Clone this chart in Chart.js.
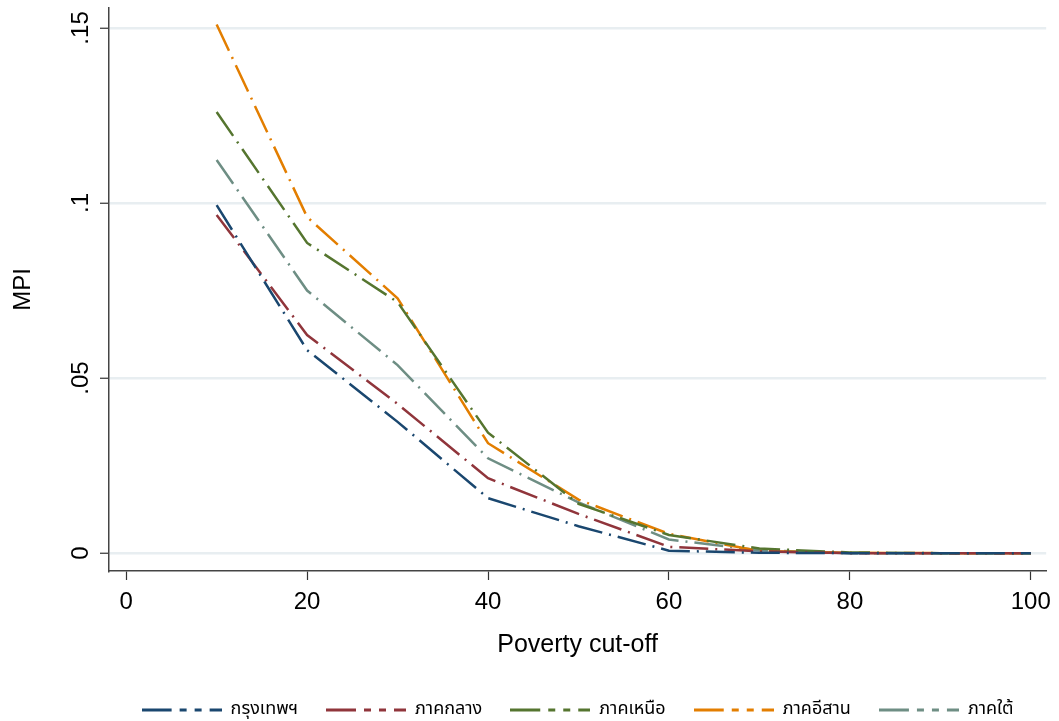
<!DOCTYPE html>
<html>
<head>
<meta charset="utf-8">
<script src="https://cdn.jsdelivr.net/npm/chart.js@4"></script>
<style>
  html, body { margin: 0; padding: 0; background: #fff; }
  #wrap { width: 1059px; height: 721px; }
</style>
</head>
<body>
<div id="wrap"><canvas id="grafico" width="1059" height="721"></canvas></div>
<script>
// datos (MPI por punto de corte)
const cutoffs = [10, 20, 30, 40, 50, 60, 70, 80, 90, 100];
const bangkok   = [0.0994, 0.0580, 0.0375, 0.0157, 0.0077, 0.0007, 0.0001, 0, 0, 0];
const central   = [0.0966, 0.0623, 0.0426, 0.0214, 0.0112, 0.0018, 0.0005, 0, 0, 0];
const north     = [0.1260, 0.0886, 0.0717, 0.0344, 0.0141, 0.0052, 0.0013, 0.0002, 0, 0];
const northeast = [0.1510, 0.0960, 0.0728, 0.0314, 0.0153, 0.0055, 0.0006, 0.0001, 0, 0];
const south     = [0.1123, 0.0750, 0.0537, 0.0271, 0.0145, 0.0039, 0.0008, 0, 0, 0];

const regionNames = ['กรุงเทพฯ', 'ภาคกลาง', 'ภาคเหนือ', 'ภาคอีสาน', 'ภาคใต้'];
const regionColors = ['#1a476f', '#90353b', '#55752f', '#e37e00', '#6e8e84'];

const xTicks = [0, 20, 40, 60, 80, 100];
const yTicks = [0, 0.05, 0.1, 0.15];
const yTickLabels = ['0', '.05', '.1', '.15'];

const fontFam = '"Liberation Sans", Arial, sans-serif';
const thaiFam = '"Noto Sans Thai", "Loma", "Garuda", "Tlwg Typo", "Liberation Sans", sans-serif';

function toPoints(vals) {
  return cutoffs.map((c, i) => ({ x: c, y: vals[i] }));
}

// icono de la leyenda: linea larga + guiones cortos
function legendIcon(color) {
  const c = document.createElement('canvas');
  c.width = 80; c.height = 6;
  const g = c.getContext('2d');
  g.strokeStyle = color;
  g.lineWidth = 3;
  g.setLineDash([30, 8, 7, 8, 7, 8]);
  g.beginPath();
  g.moveTo(0, 3); g.lineTo(80, 3);
  g.stroke();
  return c;
}

const series = [bangkok, central, north, northeast, south];

// etiquetas del eje y rotadas (como Stata)
const yLabelsPlugin = {
  id: 'yLabels',
  afterDraw(chart) {
    const y = chart.scales.y;
    const ctx = chart.ctx;
    ctx.save();
    ctx.fillStyle = '#000';
    ctx.font = '24px ' + fontFam;
    ctx.textAlign = 'center';
    ctx.textBaseline = 'alphabetic';
    yTicks.forEach((v, i) => {
      const py = y.getPixelForValue(v);
      ctx.save();
      ctx.translate(y.right - 21, py);
      ctx.rotate(-Math.PI / 2);
      ctx.fillText(yTickLabels[i], 0, 0);
      ctx.restore();
    });
    ctx.restore();
  }
};

new Chart(document.getElementById('grafico').getContext('2d'), {
  type: 'line',
  data: {
    datasets: series.map((vals, i) => ({
      label: regionNames[i],
      data: toPoints(vals),
      borderColor: regionColors[i],
      backgroundColor: regionColors[i],
      borderWidth: 2.5,
      borderDash: [29, 7, 2, 7],
      pointRadius: 0,
      tension: 0,
      fill: false,
    }))
  },
  options: {
    responsive: false,
    animation: false,
    layout: { padding: { left: 0, right: 11, top: 8, bottom: -8 } },
    plugins: {
      tooltip: { enabled: false },
      legend: {
        position: 'bottom',
        fullSize: false,
        labels: {
          usePointStyle: true,
          pointStyleWidth: 80,
          boxHeight: 6,
          padding: 28,
          color: '#000',
          font: { family: thaiFam, size: 18 },
          generateLabels: chart => chart.data.datasets.map((ds, i) => ({
            text: ds.label,
            pointStyle: legendIcon(regionColors[i]),
            fillStyle: regionColors[i],
            strokeStyle: regionColors[i],
            lineWidth: 0,
            fontColor: '#000',
            hidden: false,
            datasetIndex: i,
          }))
        }
      }
    },
    scales: {
      x: {
        type: 'linear',
        min: -1.9,
        max: 101.7,
        afterBuildTicks: s => { s.ticks = xTicks.map(v => ({ value: v })); },
        afterFit: s => { s.height = 102; },
        ticks: {
          color: '#000',
          padding: 8,
          maxRotation: 0,
          font: { family: fontFam, size: 24 },
          callback: v => String(v)
        },
        grid: { drawOnChartArea: false, tickLength: 9, tickColor: '#333', tickWidth: 1.2 },
        border: { display: true, color: '#444', width: 1.5 },
        title: {
          display: true,
          text: 'Poverty cut-off',
          color: '#000',
          font: { family: fontFam, size: 25 },
          padding: { top: 10, bottom: 13 }
        }
      },
      y: {
        type: 'linear',
        min: -0.0051,
        max: 0.1557,
        afterBuildTicks: s => { s.ticks = yTicks.map(v => ({ value: v })); },
        afterFit: s => { s.width = 109; },
        ticks: { display: false },
        grid: {
          color: '#e8eef1',
          lineWidth: 2.5,
          tickLength: 9,
          tickColor: '#333',
          tickWidth: 1.2
        },
        border: { display: true, color: '#444', width: 1.5 },
        title: {
          display: true,
          text: 'MPI',
          color: '#000',
          font: { family: fontFam, size: 24 },
          padding: { top: 9, bottom: 0 }
        }
      }
    }
  },
  plugins: [yLabelsPlugin]
});
</script>
</body>
</html>
